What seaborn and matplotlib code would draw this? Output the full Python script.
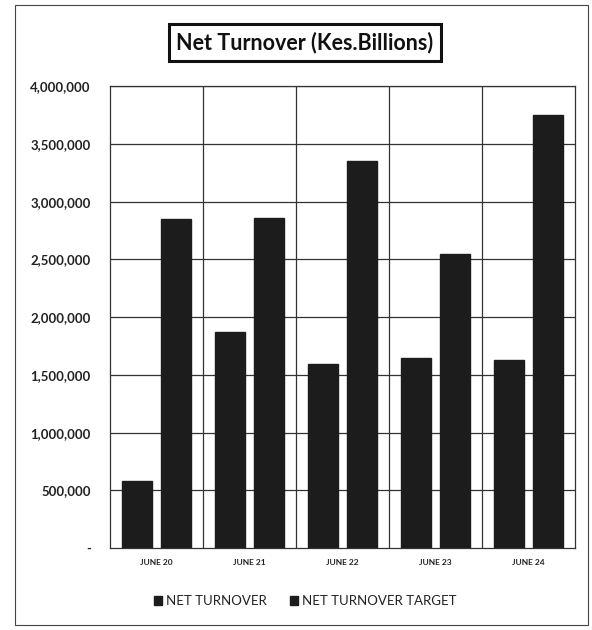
import pandas as pd
import matplotlib.pyplot as plt
import seaborn as sns
from matplotlib.ticker import FuncFormatter

# Values
periods = ['JUNE 20', 'JUNE 21', 'JUNE 22', 'JUNE 23', 'JUNE 24']
net_turnover = [580000, 1870000, 1595000, 1645000, 1630000]
net_turnover_target = [2850000, 2855000, 3350000, 2545000, 3750000]

df = pd.DataFrame({
    'period': periods * 2,
    'value': net_turnover + net_turnover_target,
    'series': ['NET TURNOVER'] * len(periods) + ['NET TURNOVER TARGET'] * len(periods),
})

sns.set_style('white')
plt.rcParams['font.family'] = ['Lato', 'DejaVu Sans']

fig = plt.figure(figsize=(5.92, 6.3), dpi=100)
ax = fig.add_axes([0.186, 0.130, 0.785, 0.733])

sns.barplot(
    data=df, x='period', y='value', hue='series',
    palette=['#1c1c1c', '#1c1c1c'], width=0.84, gap=0.24,
    edgecolor='#1c1c1c', ax=ax, legend=True,
)

ax.set_ylim(0, 4000000)
ax.set_xlim(-0.5, len(periods) - 0.5)
ax.set_yticks(range(0, 4000001, 500000))
ax.yaxis.set_major_formatter(FuncFormatter(lambda v, p: '-' if v == 0 else f'{int(v):,}'))
ax.tick_params(axis='y', labelsize=9.5, length=0, pad=14)
ax.tick_params(axis='x', labelsize=6, length=0, pad=8)
for lbl in ax.get_yticklabels() + ax.get_xticklabels():
    lbl.set_fontweight('bold')
    lbl.set_color('#222222')
ax.set_xlabel('')
ax.set_ylabel('')

# grid: horizontal lines at each tick, vertical lines at category boundaries
for y in range(500000, 4000001, 500000):
    ax.axhline(y, color='#333333', lw=0.9, zorder=0)
for x in [0.5, 1.5, 2.5, 3.5]:
    ax.axvline(x, color='#333333', lw=0.9, zorder=0)
for s in ax.spines.values():
    s.set_color('#333333')
    s.set_linewidth(0.9)

leg = ax.legend(
    loc='center', bbox_to_anchor=(0.42, -0.115), ncol=2, frameon=False,
    fontsize=9.5, handlelength=0.6, handleheight=0.6, handletextpad=0.3, columnspacing=1.8,
)
for t in leg.get_texts():
    t.set_color('#222222')

fig.text(0.515, 0.932, 'Net Turnover (Kes.Billions)', ha='center', va='center',
         fontsize=15.5, fontweight='bold', color='#111111',
         bbox=dict(boxstyle='square,pad=0.35', fc='white', ec='#111111', lw=2.2))

# outer frame
fig.patches.append(plt.Rectangle((0.025, 0.008), 0.968, 0.984, transform=fig.transFigure,
                                 fill=False, ec='#444444', lw=0.8))

fig.savefig('out.png', dpi=100)
